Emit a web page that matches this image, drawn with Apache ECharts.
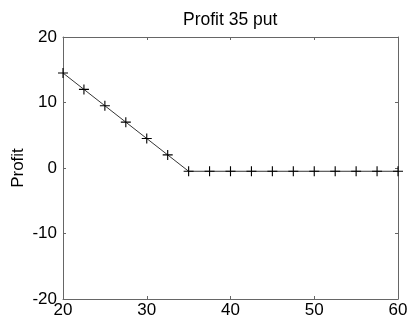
<!DOCTYPE html>
<html>
<head>
<meta charset="utf-8">
<script src="https://cdn.jsdelivr.net/npm/echarts@6/dist/echarts.min.js"></script>
<style>html,body{margin:0;padding:0;background:#fff}#c{width:411px;height:329px}</style>
</head>
<body>
<div id="c"></div>
<script>
var stockPrices = [20, 22.5, 25, 27.5, 30, 32.5, 35, 37.5, 40, 42.5, 45, 47.5, 50, 52.5, 55, 57.5, 60];
var profit = [14.5, 12, 9.5, 7, 4.5, 2, -0.5, -0.5, -0.5, -0.5, -0.5, -0.5, -0.5, -0.5, -0.5, -0.5, -0.5];
var titleText = 'Profit 35 put';
var yLabel = 'Profit';

var FONT = 'Liberation Sans, Arial, sans-serif';
var axisCol = '#666';
var chart = echarts.init(document.getElementById('c'));
var pts = stockPrices.map(function (x, i) { return [x, profit[i]]; });
function mkAxis(pos, min, max, showLabel) {
  return {
    type: 'value', position: pos, min: min, max: max, interval: 10,
    axisLine: { show: true, onZero: false, lineStyle: { color: axisCol, width: 1 } },
    axisTick: { show: true, inside: true, length: 3, lineStyle: { color: axisCol } },
    axisLabel: { show: showLabel, color: '#000', fontSize: 17, fontFamily: FONT, margin: 6 },
    splitLine: { show: false }
  };
}
var y0 = mkAxis('left', -20, 20, true);
y0.name = yLabel; y0.nameLocation = 'middle'; y0.nameGap = 36; y0.nameMoveOverlap = false;
y0.nameTextStyle = { color: '#000', fontSize: 17, fontFamily: FONT };
var x0 = mkAxis('bottom', 20, 60, true);
x0.axisLabel.margin = 3;
chart.setOption({
  animation: false,
  title: { text: titleText, left: 178, top: 6,
    textStyle: { color: '#000', fontSize: 17.5, fontWeight: 'normal', fontFamily: FONT } },
  grid: { left: 63, right: 13, top: 37, bottom: 30, containLabel: false, outerBoundsMode: 'none' },
  xAxis: [x0, mkAxis('top', 20, 60, false)],
  yAxis: [y0, mkAxis('right', -20, 20, false)],
  series: [{
    type: 'line', data: pts, xAxisIndex: 0, yAxisIndex: 0,
    lineStyle: { color: '#000', width: 0.8 },
    symbol: 'path://M4,0h1v9h-1zM0,4h9v1h-9z', symbolSize: 10,
    itemStyle: { color: '#000' }
  }]
});
</script>
</body>
</html>
